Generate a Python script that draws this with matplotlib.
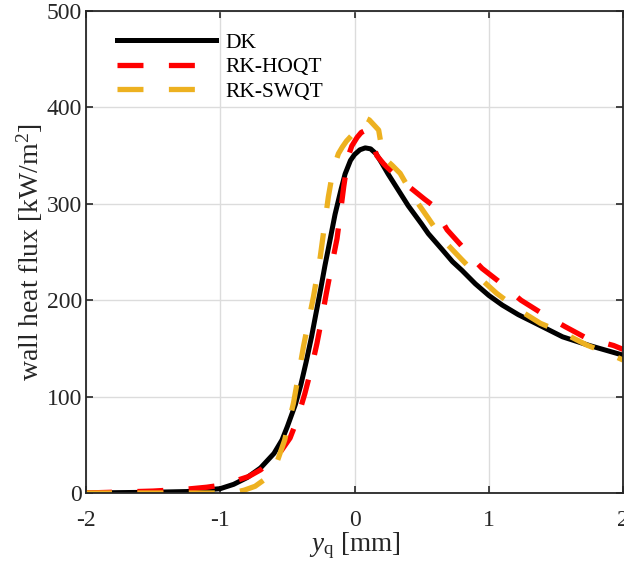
import matplotlib
matplotlib.use("Agg")
import matplotlib.pyplot as plt

# Wall heat flux profiles across the quenching coordinate y_q
x_dk = [-2.0, -1.75, -1.5, -1.25, -1.0, -0.9, -0.8, -0.7, -0.6, -0.54, -0.5, -0.44,
        -0.4, -0.36, -0.32, -0.29, -0.25, -0.22, -0.18, -0.145, -0.1, -0.07, -0.03,
        0.0, 0.04, 0.08, 0.12, 0.16, 0.2, 0.25, 0.3, 0.4, 0.5, 0.55, 0.65, 0.73, 0.8,
        0.9, 1.0, 1.1, 1.22, 1.35, 1.55, 1.75, 2.0]
q_dk = [0, 0.4, 0.8, 1.5, 4.5, 9, 16, 26, 41, 55, 69, 92,
        112, 136, 162, 184, 213, 236, 264, 289, 315, 331, 345,
        351, 356, 358, 357, 352, 343, 331, 320, 298, 279, 269, 253, 240, 231,
        217, 205, 195, 185, 176, 162, 153, 143]

x_hoqt = [-2.0, -1.75, -1.5, -1.25, -1.1, -1.0, -0.9, -0.79, -0.7, -0.64, -0.55,
          -0.48, -0.43, -0.37, -0.32, -0.28, -0.245, -0.21, -0.17, -0.13, -0.08,
          -0.045, -0.02, 0.02, 0.05, 0.08, 0.11, 0.14, 0.166, 0.22, 0.28, 0.35, 0.44,
          0.52, 0.577, 0.63, 0.69, 0.8, 0.875, 0.95, 1.07, 1.24, 1.4, 1.57, 1.73,
          1.93, 2.0]
q_hoqt = [0, 1, 2, 4, 6, 8, 12, 17, 24, 31, 43,
          57, 75, 103, 130, 155, 180, 207, 236, 264, 318,
          350, 360, 369, 374, 376, 370, 360, 350, 341, 333, 324, 314,
          305, 299, 287, 273, 256, 244, 233, 220, 200, 186, 172.5, 160.5,
          153, 149]

x_swqt = [-2.0, -1.5, -1.0, -0.9, -0.82, -0.74, -0.66, -0.58, -0.52, -0.455, -0.42,
          -0.38, -0.34, -0.305, -0.255, -0.195, -0.16, -0.12, -0.09, -0.06, -0.02,
          0.02, 0.05, 0.08, 0.11, 0.15, 0.18, 0.2, 0.216, 0.28, 0.34, 0.45, 0.55,
          0.66, 0.79, 0.925, 1.06, 1.224, 1.385, 1.56, 1.73, 1.92, 2.0]
q_swqt = [0, 0, 0, 0.3, 3, 7, 15, 31, 55, 93, 120,
          152, 180, 204, 245, 307, 335, 352, 359, 365, 371,
          380, 385, 389, 387, 381, 376.5, 360, 348, 340, 331.6, 305, 285,
          262.5, 243.5, 224, 207, 190, 176, 165.7, 153.5, 143, 138]

labels = ["DK", "RK-HOQT", "RK-SWQT"]
colors = ["#000000", "#FF0000", "#EDB120"]
x_ticks = [-2, -1, 0, 1, 2]
y_ticks = [0, 100, 200, 300, 400, 500]

plt.rcParams.update({
    "font.family": "Liberation Serif",
    "font.size": 17,
    "mathtext.fontset": "custom",
    "mathtext.rm": "Liberation Serif",
    "mathtext.it": "Liberation Serif:italic",
    "axes.unicode_minus": False,
    "lines.scale_dashes": False,
})

fig = plt.figure(figsize=(6.24, 5.72), dpi=100)
ax = fig.add_axes([86 / 624, 79 / 572, 537 / 624, 482 / 572])

dash = (0, (18.7, 18.3))
ax.plot(x_dk, q_dk, color=colors[0], lw=3.6, label=labels[0],
        solid_joinstyle="round")
ax.plot(x_hoqt, q_hoqt, color=colors[1], lw=3.8, linestyle=dash, label=labels[1])
ax.plot(x_swqt, q_swqt, color=colors[2], lw=3.8, linestyle=dash, label=labels[2])

ax.set_xlim(-2, 2)
ax.set_ylim(0, 500)
ax.set_xticks(x_ticks)
ax.set_yticks(y_ticks)
ax.set_xticklabels([str(t) for t in x_ticks])
ax.set_yticklabels([str(t) for t in y_ticks])

ax.grid(True, color="#dcdcdc", lw=1.0)
ax.set_axisbelow(True)
for s in ax.spines.values():
    s.set_color("#262626")
    s.set_linewidth(1.3)
ax.tick_params(direction="in", length=5, width=1.2, color="#262626",
               top=True, right=True, labelcolor="#262626")
ax.tick_params(axis="y", pad=3)
ax.tick_params(axis="x", pad=12)

ax.set_xlabel(r"$y_\mathrm{q}$ [mm]", color="#262626", fontsize=19.5, labelpad=0)
ax.set_ylabel(r"wall heat flux [kW/m$^2$]", color="#262626", fontsize=20,
              labelpad=1)

leg = ax.legend(loc="upper left", bbox_to_anchor=(0.0425, 0.9725), frameon=False,
                fontsize=15.5, handlelength=4.6, handletextpad=0.4,
                labelspacing=0.2, borderaxespad=0.0)
for t in leg.get_texts():
    t.set_color("#000000")

fig.savefig("out.png", dpi=100)
